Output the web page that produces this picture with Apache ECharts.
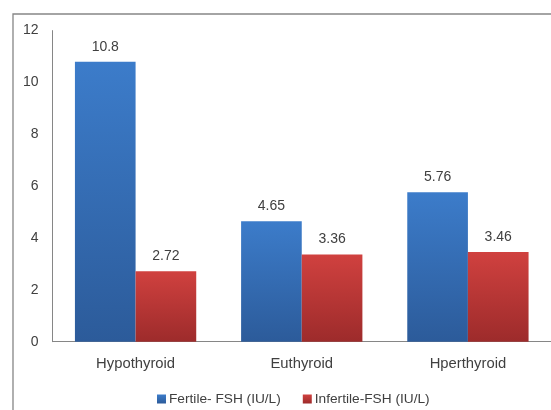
<!DOCTYPE html>
<html>
<head>
<meta charset="utf-8">
<script src="https://cdn.jsdelivr.net/npm/echarts@6/dist/echarts.min.js"></script>
<style>
  html, body { margin: 0; padding: 0; background: #fff; }
  #chart { width: 551px; height: 410px; }
</style>
</head>
<body>
<div id="chart"></div>
<script>
// Thyroid status groups and mean FSH levels
const categories = ['Hypothyroid', 'Euthyroid', 'Hperthyroid'];
const fertileFSH = [10.8, 4.65, 5.76];
const infertileFSH = [2.72, 3.36, 3.46];
const seriesNames = ['Fertile- FSH (IU/L)', 'Infertile-FSH (IU/L)'];

const FONT = 'Liberation Sans, Arial, sans-serif';

function grad(top, bottom) {
  return new echarts.graphic.LinearGradient(0, 0, 0, 1, [
    { offset: 0, color: top },
    { offset: 1, color: bottom }
  ]);
}

const chart = echarts.init(document.getElementById('chart'), null, { renderer: 'canvas' });

chart.setOption({
  animation: false,
  backgroundColor: '#ffffff',
  graphic: [{
    type: 'rect',
    silent: true,
    z: -1,
    shape: { x: 13, y: 14, width: 700, height: 600 },
    style: { fill: 'none', stroke: '#868686', lineWidth: 1.3 }
  }],
  grid: { left: 52.5, right: 0, top: 30.6, bottom: 68.3, containLabel: false },
  legend: {
    data: seriesNames,
    top: 387,
    left: 152,
    itemWidth: 9,
    itemHeight: 9,
    itemGap: 22,
    icon: 'rect',
    textStyle: { fontFamily: FONT, fontSize: 13.7, color: '#404040', padding: [0, 0, 0, -2] }
  },
  xAxis: {
    type: 'category',
    data: categories,
    axisLine: { lineStyle: { color: '#868686', width: 1 } },
    axisTick: { show: false },
    axisLabel: { fontFamily: FONT, fontSize: 14.8, color: '#404040', margin: 15 },
    splitLine: { show: false }
  },
  yAxis: {
    type: 'value',
    min: 0,
    max: 12,
    interval: 2,
    axisLine: { show: true, lineStyle: { color: '#868686', width: 1 } },
    axisTick: { show: false },
    axisLabel: { fontFamily: FONT, fontSize: 14, color: '#404040', margin: 14 },
    splitLine: { show: false }
  },
  series: [
    {
      name: seriesNames[0],
      type: 'bar',
      data: fertileFSH,
      barGap: '0%',
      barCategoryGap: '27%',
      itemStyle: { color: grad('#3c7cca', '#2c5b9a') },
      label: {
        show: true, position: 'top', distance: 8,
        fontFamily: FONT, fontSize: 14, color: '#404040'
      }
    },
    {
      name: seriesNames[1],
      type: 'bar',
      data: infertileFSH,
      barGap: '0%',
      barCategoryGap: '27%',
      itemStyle: { color: grad('#d0413f', '#9d2b2b') },
      label: {
        show: true, position: 'top', distance: 8,
        fontFamily: FONT, fontSize: 14, color: '#404040'
      }
    }
  ]
});
</script>
</body>
</html>
